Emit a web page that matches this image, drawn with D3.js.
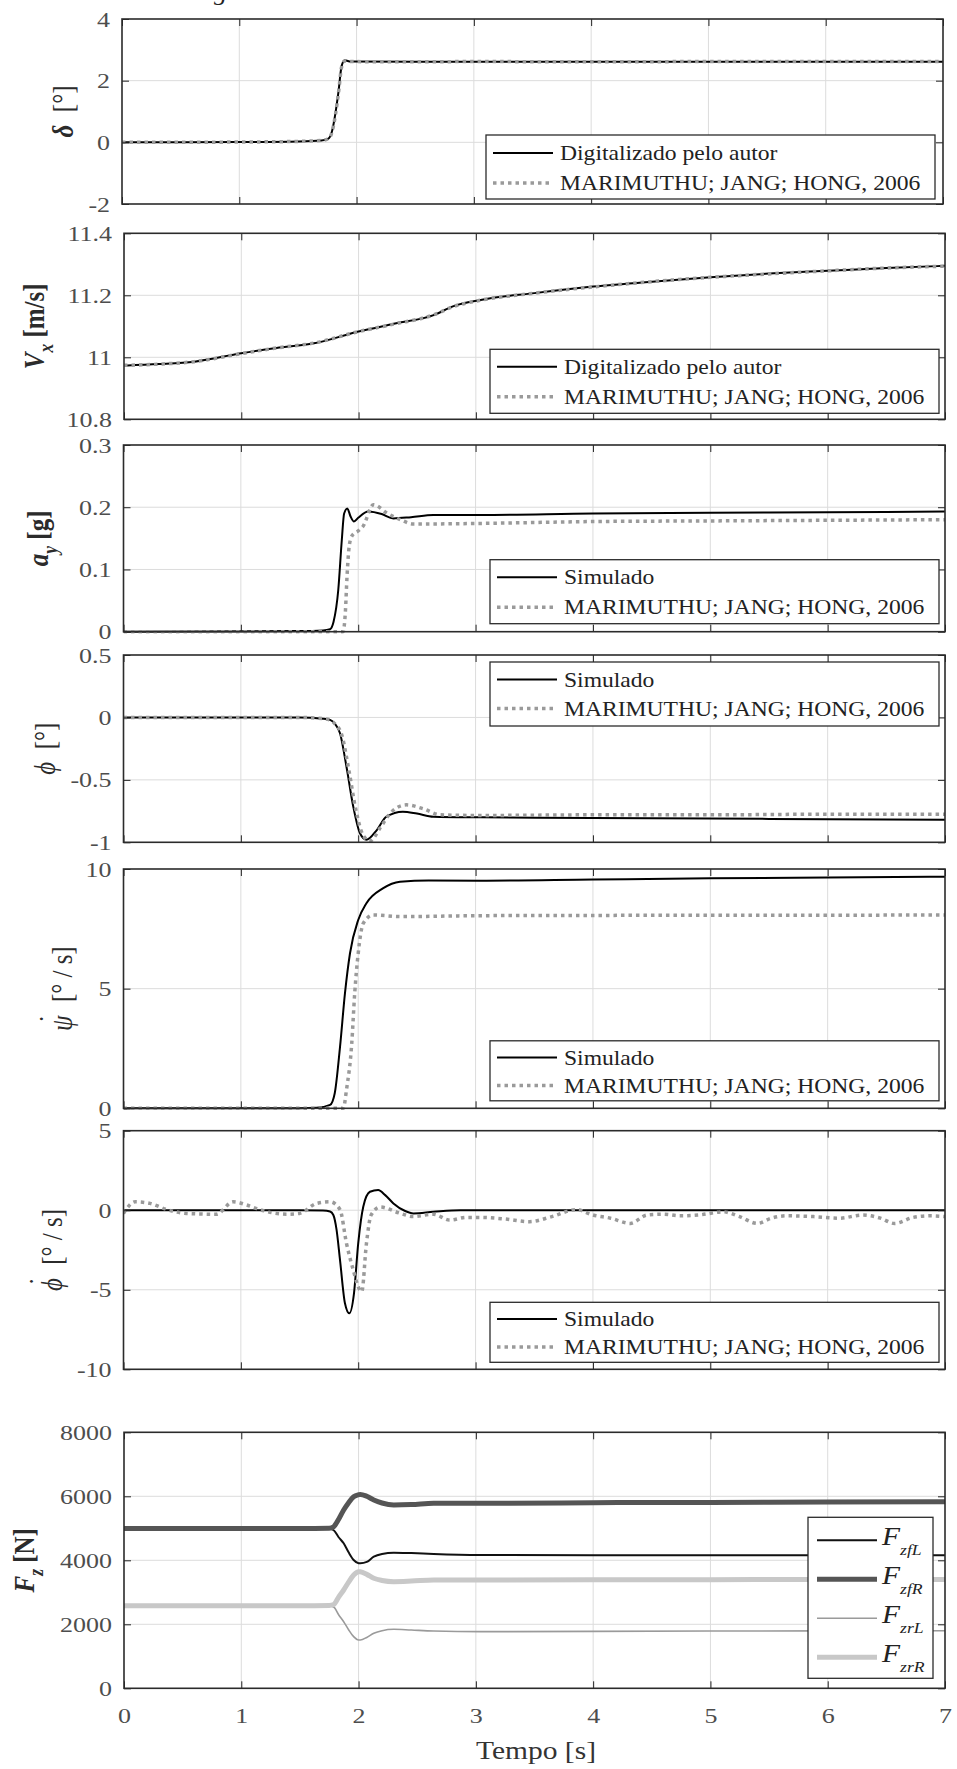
<!DOCTYPE html>
<html>
<head>
<meta charset="utf-8">
<script src="https://cdn.jsdelivr.net/npm/d3@7"></script>
<style>
  body { margin: 0; background: #fff; }
  svg { display: block; }
</style>
</head>
<body>
<div id="chart"></div>
<script>
// ---- data ----
const timeTicks = [0, 1, 2, 3, 4, 5, 6, 7];

const deltaTicks = [-2, 0, 2, 4];
const deltaT = [0, 0.5, 1.0, 1.5, 1.7, 1.76, 1.79, 1.82, 1.845, 1.873, 1.9, 1.95, 2.5, 3, 4, 5, 6, 7];
const deltaAutor = [0, 0, 0.01, 0.03, 0.06, 0.12, 0.35, 0.95, 1.62, 2.48, 2.66, 2.62, 2.61, 2.61, 2.61, 2.61, 2.61, 2.61];
const deltaRef = [0, 0, 0.01, 0.03, 0.06, 0.12, 0.33, 0.9, 1.58, 2.45, 2.64, 2.62, 2.61, 2.62, 2.61, 2.62, 2.62, 2.62];

const vxTicks = [10.8, 11, 11.2, 11.4];
const vxT = [0, 0.3, 0.6, 1.0, 1.3, 1.62, 2.0, 2.3, 2.64, 2.81, 3.04, 3.5, 4, 4.5, 5, 5.5, 6, 6.5, 7];
const vxAutor = [10.973, 10.978, 10.986, 11.013, 11.03, 11.045, 11.083, 11.108, 11.136, 11.165, 11.185, 11.207, 11.228, 11.244, 11.258, 11.27, 11.279, 11.288, 11.295];
const vxRef = [10.974, 10.978, 10.986, 11.012, 11.03, 11.046, 11.083, 11.107, 11.137, 11.164, 11.184, 11.207, 11.227, 11.244, 11.258, 11.269, 11.279, 11.288, 11.294];

const ayTicks = [0, 0.1, 0.2, 0.3];
const aySimT = [0, 1.5, 1.7, 1.76, 1.79, 1.83, 1.86, 1.88, 1.907, 1.935, 1.964, 2.0, 2.086, 2.2, 2.3, 2.45, 2.64, 3.04, 4, 5, 6, 7];
const aySim = [0, 0.001, 0.002, 0.004, 0.016, 0.067, 0.147, 0.19, 0.198, 0.185, 0.177, 0.183, 0.193, 0.189, 0.182, 0.184, 0.1875, 0.1875, 0.19, 0.191, 0.192, 0.193];
const ayRefT = [0, 1.5, 1.87, 1.89, 1.905, 1.925, 1.95, 2.0, 2.04, 2.13, 2.25, 2.36, 2.47, 3.04, 4, 5, 6, 7];
const ayRef = [0, 0, 0, 0.03, 0.09, 0.14, 0.155, 0.162, 0.169, 0.204, 0.19, 0.18, 0.173, 0.174, 0.177, 0.178, 0.179, 0.18];

const phiTicks = [-1, -0.5, 0, 0.5];
const phiSimT = [0, 1.5, 1.7, 1.76, 1.8, 1.845, 1.9, 1.958, 2.015, 2.07, 2.16, 2.24, 2.38, 2.5, 2.64, 3.04, 4, 5, 6, 7];
const phiSim = [0, 0, -0.01, -0.02, -0.05, -0.127, -0.395, -0.715, -0.928, -0.98, -0.9, -0.795, -0.755, -0.77, -0.795, -0.8, -0.805, -0.81, -0.815, -0.82];
const phiRefT = [0, 1.5, 1.7, 1.76, 1.8, 1.86, 1.92, 1.98, 2.04, 2.1, 2.19, 2.28, 2.41, 2.55, 2.7, 3.04, 4, 5, 6, 7];
const phiRef = [0, 0, -0.01, -0.02, -0.05, -0.14, -0.42, -0.74, -0.94, -0.99, -0.88, -0.76, -0.7, -0.73, -0.78, -0.785, -0.78, -0.78, -0.775, -0.775];

const psiTicks = [0, 5, 10];
const psiSimT = [0, 1.5, 1.646, 1.76, 1.8, 1.845, 1.887, 1.93, 2.0, 2.07, 2.21, 2.356, 2.6, 3.04, 4, 5, 6, 7];
const psiSim = [0, 0, 0.02, 0.14, 0.63, 2.57, 4.8, 6.48, 7.87, 8.57, 9.19, 9.47, 9.52, 9.51, 9.56, 9.61, 9.65, 9.68];
const psiRefT = [0, 1.5, 1.873, 1.9, 1.945, 1.97, 2.0, 2.043, 2.13, 2.36, 3.04, 4, 5, 6, 7];
const psiRef = [0, 0, 0, 0.77, 2.72, 4.8, 6.48, 7.73, 8.08, 8.01, 8.05, 8.06, 8.07, 8.07, 8.08];

const phiDotTicks = [-10, -5, 0, 5];
const phiDotSimT = [0, 1.5, 1.7, 1.76, 1.788, 1.815, 1.845, 1.887, 1.924, 1.964, 2.0, 2.043, 2.1, 2.17, 2.23, 2.3, 2.4, 2.47, 2.64, 2.87, 3.5, 7];
const phiDotSim = [0, 0, -0.02, -0.08, -0.3, -1.2, -3.13, -5.85, -6.48, -5.22, -2.08, 0.22, 1.16, 1.27, 0.95, 0.43, -0.05, -0.2, -0.1, 0, 0, 0];
const phiDotRefT = [0, 0.1, 0.226, 0.37, 0.54, 0.79, 0.935, 1.05, 1.16, 1.39, 1.5, 1.646, 1.76, 1.845, 1.9, 1.95, 2.03, 2.07, 2.11, 2.186,
  2.36, 2.47, 2.64, 2.78, 2.92, 3.04, 3.25, 3.46, 3.65, 3.86, 4.0, 4.15, 4.32, 4.46, 4.6, 4.74, 4.9, 5.11, 5.25, 5.4,
  5.52, 5.65, 5.88, 6.1, 6.3, 6.45, 6.57, 6.73, 6.88, 7.0];
const phiDotRef = [-0.2, 0.53, 0.43, 0.04, -0.2, -0.25, 0.53, 0.33, 0.04, -0.25, -0.2, 0.43, 0.53, 0.04, -2.08, -3.55, -5.12, -2.1, -0.3, 0.2,
  -0.2, -0.4, -0.25, -0.62, -0.45, -0.45, -0.55, -0.72, -0.4, 0.04, -0.3, -0.5, -0.83, -0.3, -0.25, -0.35, -0.3, -0.1, -0.4, -0.83,
  -0.5, -0.35, -0.4, -0.5, -0.3, -0.5, -0.83, -0.45, -0.35, -0.4];

const fzTicks = [0, 2000, 4000, 6000, 8000];
const fzT = [0, 1.5, 1.75, 1.788, 1.83, 1.873, 1.915, 1.958, 2.0, 2.015, 2.07, 2.13, 2.2, 2.3, 2.45, 2.64, 3.04, 4, 5, 6, 7];
const fzfL = [4990, 4990, 4985, 4940, 4720, 4531, 4250, 4010, 3910, 3906, 3950, 4114, 4200, 4239, 4225, 4197, 4166, 4160, 4160, 4160, 4160];
const fzfR = [4990, 4990, 5000, 5050, 5280, 5572, 5800, 5988, 6050, 6060, 6000, 5884, 5790, 5728, 5740, 5780, 5780, 5800, 5810, 5820, 5830];
const fzrL = [2580, 2580, 2575, 2540, 2300, 2081, 1830, 1613, 1509, 1510, 1590, 1718, 1800, 1843, 1820, 1791, 1770, 1780, 1790, 1795, 1800];
const fzrR = [2580, 2580, 2590, 2620, 2850, 3072, 3320, 3541, 3644, 3640, 3560, 3437, 3370, 3333, 3350, 3384, 3384, 3390, 3395, 3400, 3400];

const namesAutor = ["Digitalizado pelo autor", "MARIMUTHU; JANG; HONG, 2006"];
const namesSim = ["Simulado", "MARIMUTHU; JANG; HONG, 2006"];
const fzSubs = ["zfL", "zfR", "zrL", "zrR"];

// ---- look ----
const W = 957, H = 1769;
const SX = 1.18; // the source figure is stretched horizontally
const SERIF = "'Liberation Serif', 'Times New Roman', serif";

const styles = {
  main: { stroke: "#000", width: 2, dash: null },
  ref: { stroke: "#9a9a9a", width: 3.5, dash: "3.5,4" },
  fzfL: { stroke: "#111", width: 2, dash: null },
  fzfR: { stroke: "#555", width: 5, dash: null },
  fzrL: { stroke: "#9a9a9a", width: 1.6, dash: null },
  fzrR: { stroke: "#c8c8c8", width: 5, dash: null },
};

// subscript and dot-above pieces for the rotated labels
const SUB = { shift: 0.3, size: 0.7 };
const DOT = { t: "\u02d9", dx: -0.3, shift: -0.42 };

const panels = [
  { x: [122, 943], y: [19, 204], domain: [-2, 4], ticks: deltaTicks,
    series: [[deltaT, deltaAutor, "main"], [deltaT, deltaRef, "ref"]],
    legend: { names: namesAutor, side: "bottom", gap: 5, right: 8, h: 64, r1: 18, r2: 48 },
    label: [{ t: "δ", i: 1, b: 1 }, { t: "\u00a0\u00a0[°]" }], labelX: 73 },
  { x: [124, 945], y: [233.3, 419.3], domain: [10.8, 11.4], ticks: vxTicks,
    series: [[vxT, vxAutor, "main"], [vxT, vxRef, "ref"]],
    legend: { names: namesAutor, side: "bottom", gap: 6, right: 6, h: 64, r1: 17.5, r2: 47.5 },
    label: [{ t: "V", i: 1, b: 1 }, { t: "x", i: 1, b: 1, ...SUB }, { t: "\u00a0[m/s]", b: 1 }], labelX: 44 },
  { x: [123.5, 945], y: [445, 631.7], domain: [0, 0.3], ticks: ayTicks,
    series: [[aySimT, aySim, "main"], [ayRefT, ayRef, "ref"]],
    legend: { names: namesSim, side: "bottom", gap: 8, right: 6, h: 64, r1: 17.5, r2: 47.5 },
    label: [{ t: "a", i: 1, b: 1 }, { t: "y", i: 1, b: 1, ...SUB }, { t: "\u00a0[g]", b: 1 }], labelX: 48 },
  { x: [123.5, 945], y: [655, 842.3], domain: [-1, 0.5], ticks: phiTicks,
    series: [[phiSimT, phiSim, "main"], [phiRefT, phiRef, "ref"]],
    legend: { names: namesSim, side: "top", gap: 7, right: 6, h: 64, r1: 17.5, r2: 46.5 },
    label: [{ t: "ϕ", i: 1 }, { t: "\u00a0\u00a0[°]" }], labelX: 55 },
  { x: [123.5, 945], y: [869, 1108.3], domain: [0, 10], ticks: psiTicks,
    series: [[psiSimT, psiSim, "main"], [psiRefT, psiRef, "ref"]],
    legend: { names: namesSim, side: "bottom", gap: 7.5, right: 6, h: 60, r1: 16.7, r2: 44.7 },
    label: [{ t: "ψ", i: 1 }, DOT, { t: "\u00a0\u00a0[° / s]" }], labelX: 72 },
  { x: [123.5, 945], y: [1130.7, 1369.3], domain: [-10, 5], ticks: phiDotTicks,
    series: [[phiDotSimT, phiDotSim, "main"], [phiDotRefT, phiDotRef, "ref"]],
    legend: { names: namesSim, side: "bottom", gap: 7, right: 6, h: 60, r1: 16.7, r2: 44.7 },
    label: [{ t: "ϕ", i: 1 }, DOT, { t: "\u00a0\u00a0[° / s]" }], labelX: 62 },
  { x: [124, 945], y: [1432.3, 1688.3], domain: [0, 8000], ticks: fzTicks,
    series: [[fzT, fzfL, "fzfL"], [fzT, fzfR, "fzfR"], [fzT, fzrL, "fzrL"], [fzT, fzrR, "fzrR"]],
    fzLegend: true,
    label: [{ t: "F", i: 1, b: 1 }, { t: "z", i: 1, b: 1, ...SUB }, { t: "\u00a0[N]", b: 1 }], labelX: 34 },
];

const svg = d3.select("#chart").append("svg").attr("width", W).attr("height", H);
svg.append("rect").attr("width", W).attr("height", H).attr("fill", "#fff");
const defs = svg.append("defs");

const stretch = (x, y, rot) => `translate(${x},${y}) scale(${SX},1)` + (rot ? " rotate(-90)" : "");

// writes a run of tspans; shift moves a piece off the baseline (em of base size)
const addRuns = (text, parts, base) => {
  let cur = 0;
  parts.forEach((p) => {
    const ts = text.append("tspan").text(p.t);
    if (p.i) ts.attr("font-style", "italic");
    if (p.b) ts.attr("font-weight", "bold");
    if (p.size) ts.attr("font-size", p.size * base);
    if (p.dx) ts.attr("dx", p.dx * base);
    const shift = (p.shift || 0) * base;
    if (shift !== cur) ts.attr("dy", shift - cur);
    cur = shift;
  });
};

// cut-off glyph at the very top of the page
svg.append("text")
  .attr("transform", stretch(214, 0))
  .attr("font-family", SERIF).attr("font-size", 22).attr("font-style", "italic")
  .attr("fill", "#222").text("g");

panels.forEach((p, i) => {
  const xScale = d3.scaleLinear().domain([0, 7]).range(p.x);
  const yScale = d3.scaleLinear().domain(p.domain).range([p.y[1], p.y[0]]);
  const g = svg.append("g");
  const last = i === panels.length - 1;

  // grid
  g.append("g").selectAll("line").data(timeTicks.slice(1, -1)).join("line")
    .attr("x1", (d) => xScale(d)).attr("x2", (d) => xScale(d))
    .attr("y1", p.y[0]).attr("y2", p.y[1])
    .attr("stroke", "#dcdcdc").attr("stroke-width", 1);
  g.append("g").selectAll("line").data(p.ticks.slice(1, -1)).join("line")
    .attr("y1", (d) => yScale(d)).attr("y2", (d) => yScale(d))
    .attr("x1", p.x[0]).attr("x2", p.x[1])
    .attr("stroke", "#dcdcdc").attr("stroke-width", 1);

  // data
  defs.append("clipPath").attr("id", "clip" + i).append("rect")
    .attr("x", p.x[0]).attr("y", p.y[0] - 2)
    .attr("width", p.x[1] - p.x[0]).attr("height", p.y[1] - p.y[0] + 4);

  const line = d3.line()
    .x((d) => xScale(d[0]))
    .y((d) => yScale(d[1]))
    .curve(d3.curveMonotoneX);

  p.series.forEach(([ts, vs, key]) => {
    const st = styles[key];
    g.append("path")
      .datum(d3.zip(ts, vs))
      .attr("d", line)
      .attr("fill", "none")
      .attr("stroke", st.stroke)
      .attr("stroke-width", st.width)
      .attr("stroke-dasharray", st.dash)
      .attr("stroke-linejoin", "round")
      .attr("clip-path", `url(#clip${i})`);
  });

  // axes, ticks pointing inwards on all four sides
  const tidy = (a) => a.call((s) => s.select(".domain").remove()).attr("color", "#222");

  const left = g.append("g").attr("transform", `translate(${p.x[0]},0)`)
    .call(d3.axisLeft(yScale).tickValues(p.ticks).tickFormat((d) => String(d))
      .tickSizeInner(-7).tickSizeOuter(0).tickPadding(12));
  tidy(left);
  left.selectAll(".tick text").each(function () {
    const t = d3.select(this);
    const x = +t.attr("x");
    t.attr("x", 0).attr("transform", stretch(x, 0))
      .attr("font-family", SERIF).attr("font-size", 22).attr("fill", "#4d4d4d");
  });

  tidy(g.append("g").attr("transform", `translate(${p.x[1]},0)`)
    .call(d3.axisRight(yScale).tickValues(p.ticks).tickFormat("")
      .tickSizeInner(-7).tickSizeOuter(0)));

  tidy(g.append("g").attr("transform", `translate(0,${p.y[0]})`)
    .call(d3.axisTop(xScale).tickValues(timeTicks).tickFormat("")
      .tickSizeInner(-7).tickSizeOuter(0)));

  const bottom = g.append("g").attr("transform", `translate(0,${p.y[1]})`)
    .call(d3.axisBottom(xScale).tickValues(timeTicks)
      .tickFormat(last ? (d) => String(d) : "")
      .tickSizeInner(-7).tickSizeOuter(0).tickPadding(19));
  tidy(bottom);
  bottom.selectAll(".tick text").each(function () {
    const t = d3.select(this);
    const y = +t.attr("y");
    t.attr("y", 0).attr("transform", stretch(0, y))
      .attr("font-family", SERIF).attr("font-size", 22).attr("fill", "#4d4d4d");
  });

  // frame
  g.append("rect")
    .attr("x", p.x[0]).attr("y", p.y[0])
    .attr("width", p.x[1] - p.x[0]).attr("height", p.y[1] - p.y[0])
    .attr("fill", "none").attr("stroke", "#2b2b2b").attr("stroke-width", 1.6);

  // y label
  const lab = g.append("text")
    .attr("transform", stretch(p.labelX, (p.y[0] + p.y[1]) / 2, true))
    .attr("text-anchor", "middle")
    .attr("font-family", SERIF).attr("font-size", 25).attr("fill", "#2b2b2b");
  addRuns(lab, p.label, 25);

  // legends
  if (p.legend) {
    const lg = p.legend;
    const lw = 449;
    const lx = p.x[1] - lg.right - lw;
    const ly = lg.side === "top" ? p.y[0] + lg.gap : p.y[1] - lg.gap - lg.h;
    const box = g.append("g").attr("transform", `translate(${lx},${ly})`);
    box.append("rect").attr("width", lw).attr("height", lg.h)
      .attr("fill", "#fff").attr("stroke", "#2b2b2b").attr("stroke-width", 1.3);
    [lg.r1, lg.r2].forEach((ry, k) => {
      const st = styles[k === 0 ? "main" : "ref"];
      box.append("line").attr("x1", 7).attr("x2", 67).attr("y1", ry).attr("y2", ry)
        .attr("stroke", st.stroke).attr("stroke-width", st.width)
        .attr("stroke-dasharray", st.dash);
      box.append("text").attr("transform", stretch(74, ry + 7))
        .attr("font-family", SERIF).attr("font-size", 20).attr("fill", "#222")
        .text(lg.names[k]);
    });
  }

  if (p.fzLegend) {
    const lw = 125, lh = 161;
    const lx = p.x[1] - 12 - lw;
    const ly = p.y[1] - 10 - lh;
    const box = g.append("g").attr("transform", `translate(${lx},${ly})`);
    box.append("rect").attr("width", lw).attr("height", lh)
      .attr("fill", "#fff").attr("stroke", "#2b2b2b").attr("stroke-width", 1.3);
    ["fzfL", "fzfR", "fzrL", "fzrR"].forEach((key, k) => {
      const st = styles[key];
      const ry = 23 + k * 39;
      box.append("line").attr("x1", 9).attr("x2", 69).attr("y1", ry).attr("y2", ry)
        .attr("stroke", st.stroke).attr("stroke-width", st.width);
      const t = box.append("text").attr("transform", stretch(74, ry + 5))
        .attr("font-family", SERIF).attr("font-size", 25).attr("fill", "#222");
      addRuns(t, [{ t: "F", i: 1 }, { t: fzSubs[k], i: 1, shift: 0.4, size: 0.6 }], 25);
    });
  }
});

// x axis title
svg.append("text")
  .attr("transform", stretch(536, 1759))
  .attr("text-anchor", "middle")
  .attr("font-family", SERIF).attr("font-size", 25).attr("fill", "#333")
  .text("Tempo [s]");
</script>
</body>
</html>
